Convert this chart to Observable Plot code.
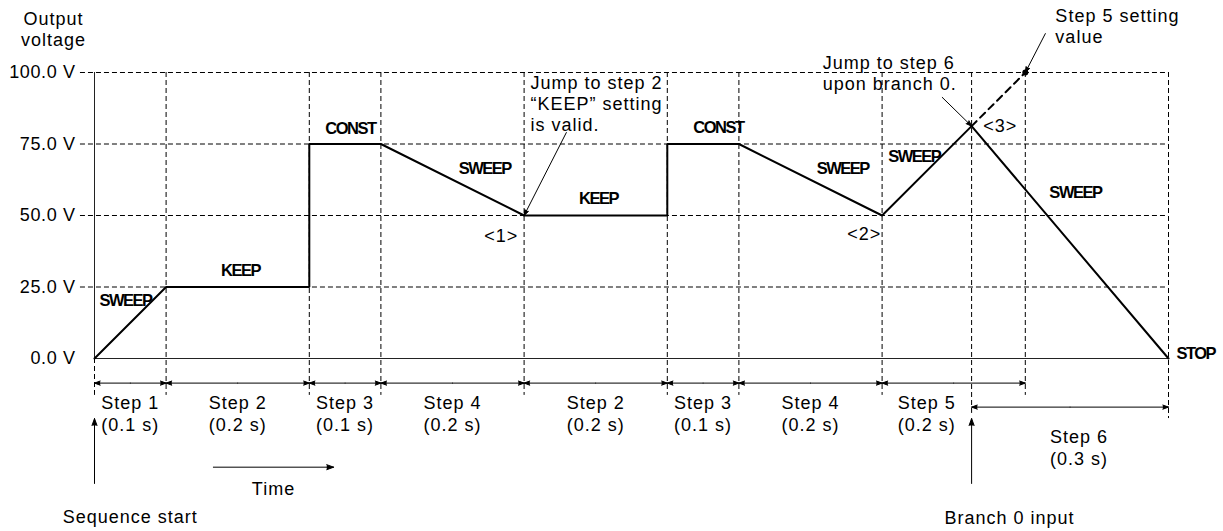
<!DOCTYPE html>
<html>
<head>
<meta charset="utf-8">
<script src="https://cdn.jsdelivr.net/npm/d3@7"></script>
<script src="https://cdn.jsdelivr.net/npm/@observablehq/plot@0.6"></script>
<style>
  body { margin: 0; background: #fff; }
  svg { display: block; }
  svg text { letter-spacing: 1px; }
  svg g[aria-label="y-axis tick label"] text { letter-spacing: 0.6px; }
  svg g[font-weight="bold"] text { letter-spacing: -1.5px; }
</style>
</head>
<body>
<script>
// ---- Output voltage profile (time in s, voltage in V) ----
const profileT = [0, 0.1, 0.3, 0.3, 0.4, 0.6, 0.8, 0.8, 0.9, 1.1, 1.225, 1.5];
const profileV = [0, 25, 25, 75, 75, 50, 50, 75, 75, 50, 81.25, 0];

// branch point and step 5 setting value
const branchT = 1.225, branchV = 81.25;
const settingT = 1.3, settingV = 100;

// axis ticks / grid
const yTicks = [0, 25, 50, 75, 100];
const gridV = [25, 50, 75, 100];

// step boundaries (vertical dashed lines) and how far below 0 V they reach
const boundaryT = [0, 0.1, 0.3, 0.4, 0.6, 0.8, 0.9, 1.1, 1.225, 1.3, 1.5];
const boundaryBottomV = [-12.9, -12.9, -12.9, -12.9, -12.9, -12.9, -12.9, -12.9, -19.2, -12.9, -21.0];

// steps executed
const stepNames = ["Step 1", "Step 2", "Step 3", "Step 4", "Step 2", "Step 3", "Step 4", "Step 5"];
const stepDurations = ["(0.1 s)", "(0.2 s)", "(0.1 s)", "(0.2 s)", "(0.2 s)", "(0.1 s)", "(0.2 s)", "(0.2 s)"];
const stepStart = [0, 0.1, 0.3, 0.4, 0.6, 0.8, 0.9, 1.1];
const stepEnd = [0.1, 0.3, 0.4, 0.6, 0.8, 0.9, 1.1, 1.3];
const step6 = {name: "Step 6", duration: "(0.3 s)", start: 1.225, end: 1.5};

// mode labels on the curve
const modeText = ["SWEEP", "KEEP", "CONST", "SWEEP", "KEEP", "CONST", "SWEEP", "SWEEP", "SWEEP"];
const modeT = [0.0433, 0.204, 0.3575, 0.545, 0.704, 0.8715, 1.045, 1.145, 1.370];
const modeV = [20.3, 30.8, 80.4, 66.4, 55.9, 80.8, 66.4, 70.6, 58.0];

// point markers
const markerText = ["<1>", "<2>", "<3>"];
const markerT = [0.568, 1.075, 1.265];
const markerV = [42.7, 43.4, 81.1];

// callouts
const noteText = ["Jump to step 2\n\u201CKEEP\u201D setting\nis valid.", "Jump to step 6\nupon branch 0.", "Step 5 setting\nvalue"];
const noteT = [0.609, 1.017, 1.342];
const noteV = [89.2, 99.8, 116.4];
const pointerFromT = [0.659, 1.184, 1.328];
const pointerFromV = [79.0, 91.3, 113.6];
const pointerToT = [0.6, branchT, settingT];
const pointerToV = [50, branchV, settingV];

// bottom annotation rows (in V units below the 0 V line)
const stepArrowV = -8.6, stepLabelV = -19.1, step6ArrowV = -17.0, step6LabelV = -31.0, step6LabelT = 1.375;
const inputArrowT = [0, branchT], inputArrowFromV = -43.7, inputArrowToV = -21.0;
const inputText = ["Sequence start", "Branch 0 input"], inputTextT = [0.05, 1.278], inputTextV = [-55.5, -56.0];
const timeArrowT = [0.166, 0.334], timeArrowV = -38.0, timeTextV = -45.6;

const gridLeftT = -0.0196;
const profile = profileT.map((t, i) => ({t, v: profileV[i]}));
const stepIdx = d3.range(stepNames.length);
const stepMid = stepIdx.map(i => (stepStart[i] + Math.min(stepEnd[i], branchT)) / 2);
const segMid = stepIdx.map(i => (stepStart[i] + stepEnd[i]) / 2);

const thinArrow = {stroke: "black", fill: "black", strokeWidth: 1, headLength: 9, headAngle: 40};

const chart = Plot.plot({
  width: 1223,
  height: 531,
  marginLeft: 94,
  marginRight: 55,
  marginTop: 72,
  marginBottom: 173,
  x: {domain: [0, 1.5], axis: null},
  y: {domain: [0, 100], axis: null},
  style: {fontFamily: "'Liberation Sans', Arial, Helvetica, sans-serif", fontSize: "18px", color: "black", background: "white", overflow: "visible"},
  marks: [
    // grid
    Plot.ruleY(gridV, {x1: gridLeftT, x2: 1.5, stroke: "black", strokeWidth: 1, strokeDasharray: "5,3"}),
    Plot.ruleX(boundaryT.slice(1), {y1: 100, y2: boundaryBottomV.slice(1), stroke: "black", strokeWidth: 1, strokeDasharray: "5,3"}),
    Plot.ruleX([0], {y1: 0, y2: boundaryBottomV[0], stroke: "black", strokeWidth: 1, strokeDasharray: "5,3"}),
    // axes
    Plot.ruleY([0], {x1: 0, x2: 1.5, stroke: "#222", strokeWidth: 1}),
    Plot.ruleX([0], {y1: 0, y2: 100, stroke: "#222", strokeWidth: 1}),
    Plot.axisY({ticks: yTicks, tickFormat: d => d.toFixed(1) + " V", tickSize: 0, tickPadding: 19, label: null, fontSize: 18}),
    // output voltage profile
    Plot.line(profile, {x: "t", y: "v", stroke: "black", strokeWidth: 2, strokeLinejoin: "miter"}),
    // step 5 setting extension
    Plot.line([{t: branchT, v: branchV}, {t: settingT, v: settingV}], {x: "t", y: "v", stroke: "black", strokeWidth: 2, strokeDasharray: "7,5"}),
    Plot.dot([{t: settingT, v: settingV}], {x: "t", y: "v", r: 3, fill: "black", stroke: "none"}),
    // mode labels
    Plot.text(modeText, {x: modeT, y: modeV, text: d => d, fontWeight: "bold", fontSize: 16.5}),
    Plot.text(["STOP"], {x: [1.511], y: [1.7], text: d => d, fontWeight: "bold", fontSize: 16.5, textAnchor: "start"}),
    // point markers
    Plot.text(markerText, {x: markerT, y: markerV, text: d => d}),
    // callouts
    Plot.text(noteText, {x: noteT, y: noteV, text: d => d, textAnchor: "start", lineHeight: 1.17}),
    Plot.arrow(noteText, {x1: pointerFromT, y1: pointerFromV, x2: pointerToT, y2: pointerToV, ...thinArrow}),
    // y label
    Plot.text(["Output\nvoltage"], {x: [-0.0573], y: [115.4], text: d => d, lineHeight: 1.17}),
    // step arrows (double-headed)
    Plot.arrow(stepIdx, {x1: segMid, y1: stepArrowV, x2: stepStart, y2: stepArrowV, ...thinArrow}),
    Plot.arrow(stepIdx, {x1: segMid, y1: stepArrowV, x2: stepEnd, y2: stepArrowV, ...thinArrow}),
    Plot.text(stepIdx, {x: stepMid, y: stepLabelV, text: i => stepNames[i] + "\n" + stepDurations[i], lineHeight: 1.2}),
    Plot.arrow([step6], {x1: d => (d.start + d.end) / 2, y1: step6ArrowV, x2: "start", y2: step6ArrowV, ...thinArrow}),
    Plot.arrow([step6], {x1: d => (d.start + d.end) / 2, y1: step6ArrowV, x2: "end", y2: step6ArrowV, ...thinArrow}),
    Plot.text([step6], {x: step6LabelT, y: step6LabelV, text: d => d.name + "\n" + d.duration, lineHeight: 1.2}),
    // inputs
    Plot.arrow(inputArrowT, {x1: d => d, y1: inputArrowFromV, x2: d => d, y2: inputArrowToV, ...thinArrow, headLength: 11}),
    Plot.text(inputText, {x: inputTextT, y: inputTextV, text: d => d}),
    // time arrow
    Plot.arrow([0], {x1: timeArrowT[0], y1: timeArrowV, x2: timeArrowT[1], y2: timeArrowV, ...thinArrow, headLength: 11}),
    Plot.text(["Time"], {x: [(timeArrowT[0] + timeArrowT[1]) / 2], y: [timeTextV], text: d => d})
  ]
});
document.body.appendChild(chart);
</script>
</body>
</html>
